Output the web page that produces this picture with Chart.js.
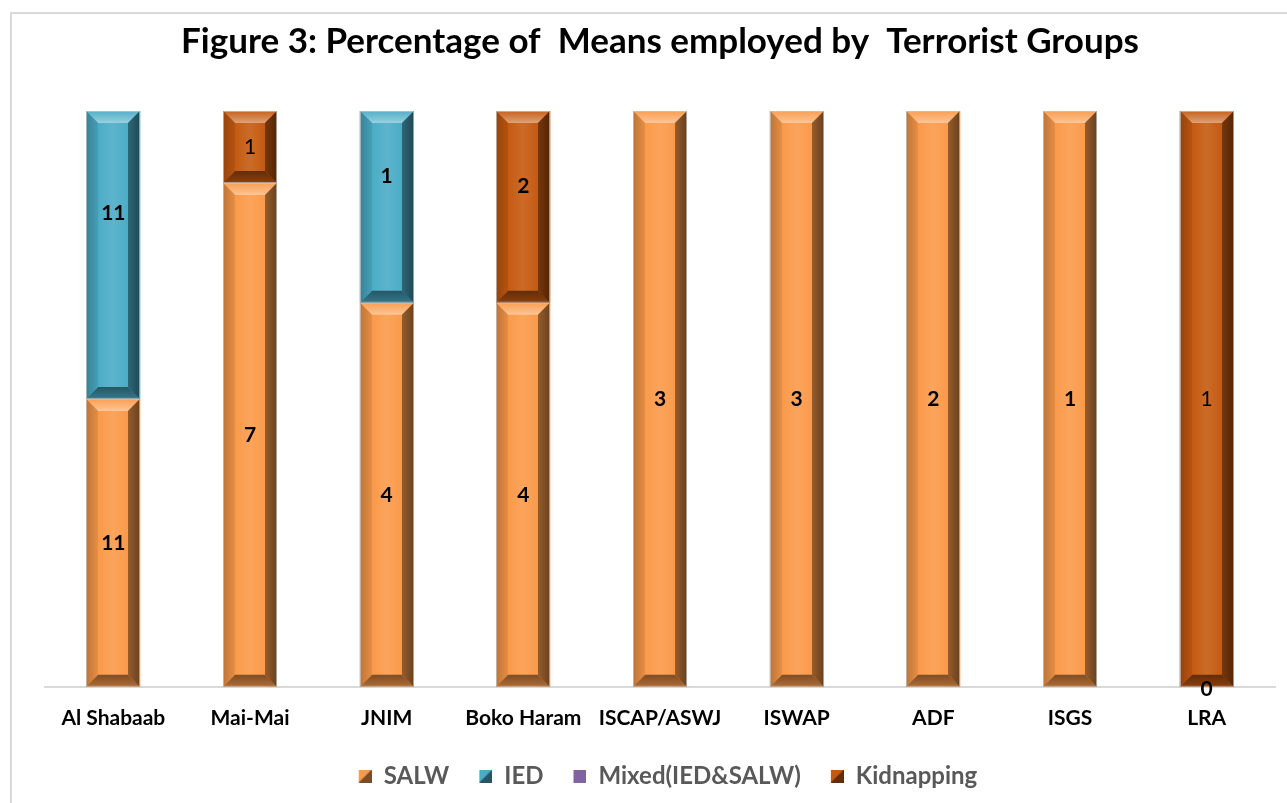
<!DOCTYPE html>
<html>
<head>
<meta charset="utf-8">
<script src="https://cdn.jsdelivr.net/npm/chart.js@4/dist/chart.umd.min.js"></script>
<style>
  html, body { margin: 0; padding: 0; background: #fff; overflow: hidden; }
  #frame { position: absolute; left: 10px; top: 12px; width: 1400px; height: 900px;
           border-left: 2px solid #d9d9d9; border-top: 2px solid #d9d9d9; }
  #wrap { position: absolute; left: 0; top: 0; width: 1287px; height: 803px; }
</style>
</head>
<body>
<div id="frame"></div>
<div id="wrap"><canvas id="chart"></canvas></div>
<script>
// Terrorist groups on the x axis
const categories = ['Al Shabaab', 'Mai-Mai', 'JNIM', 'Boko Haram', 'ISCAP/ASWJ', 'ISWAP', 'ADF', 'ISGS', 'LRA']

// share of each bar (percent)
const salwShare   = [50, 87.5, 66.7, 66.7, 100, 100, 100, 100, 0]
const iedShare    = [50, 0, 33.3, 0, 0, 0, 0, 0, 0]
const mixedShare  = [0, 0, 0, 0, 0, 0, 0, 0, 0]
const kidnapShare = [0, 12.5, 0, 33.3, 0, 0, 0, 0, 100]

// counts printed on the segments (null = no label)
const salwCounts   = [11, 7, 4, 4, 3, 3, 2, 1, 0]
const iedCounts    = [11, null, 1, null, null, null, null, null, null]
const mixedCounts  = [null, null, null, null, null, null, null, null, null]
const kidnapCounts = [null, 1, null, 2, null, null, null, null, 1]

const FONT = 'Lato, "Open Sans", sans-serif'

// label nudges (px) - a few labels sit above the segment centre in the original
const labelNudge = {
  '1-0': -42, '1-2': -31, '3-3': -21, '0-8': 2
}
const plainLabels = { '3-1': true, '3-8': true }

function rgb(hex) {
  const n = parseInt(hex.slice(1), 16)
  return [(n >> 16) & 255, (n >> 8) & 255, n & 255]
}
function shade(hex, f) {
  let [r, g, b] = rgb(hex)
  if (f <= 1) { r *= f; g *= f; b *= f }
  else { const t = f - 1; r += (255 - r) * t; g += (255 - g) * t; b += (255 - b) * t }
  return `rgb(${Math.round(r)},${Math.round(g)},${Math.round(b)})`
}

function poly(ctx, pts, fill) {
  ctx.beginPath()
  ctx.moveTo(pts[0][0], pts[0][1])
  for (let i = 1; i < pts.length; i++) ctx.lineTo(pts[i][0], pts[i][1])
  ctx.closePath()
  ctx.fillStyle = fill
  ctx.fill()
}

function drawBevel(ctx, x0, y0, x1, y1, c) {
  const w = x1 - x0, h = y1 - y0
  if (h < 1) return
  const b = Math.min(12, w / 2, h / 2)
  const g = ctx.createLinearGradient(x0, 0, x1, 0)
  g.addColorStop(0, shade(c, 0.8))
  g.addColorStop(0.22, c)
  g.addColorStop(0.5, shade(c, 1.1))
  g.addColorStop(0.78, c)
  g.addColorStop(1, shade(c, 0.62))
  ctx.fillStyle = g
  ctx.fillRect(x0, y0, w, h)

  // top bevel - bright band along inner edge
  const gt = ctx.createLinearGradient(0, y0, 0, y0 + b)
  gt.addColorStop(0, shade(c, 1.05))
  gt.addColorStop(0.7, shade(c, 1.3))
  gt.addColorStop(1, shade(c, 1.45))
  poly(ctx, [[x0, y0], [x1, y0], [x1 - b, y0 + b], [x0 + b, y0 + b]], gt)
  // bottom bevel
  const gb = ctx.createLinearGradient(0, y1 - b, 0, y1)
  gb.addColorStop(0, shade(c, 0.5))
  gb.addColorStop(1, shade(c, 0.7))
  poly(ctx, [[x0, y1], [x1, y1], [x1 - b, y1 - b], [x0 + b, y1 - b]], gb)
  // right bevel
  const gr = ctx.createLinearGradient(x1 - b, 0, x1, 0)
  gr.addColorStop(0, shade(c, 0.6))
  gr.addColorStop(1, shade(c, 0.42))
  poly(ctx, [[x1, y0], [x1, y1], [x1 - b, y1 - b], [x1 - b, y0 + b]], gr)
  // left bevel
  const gl = ctx.createLinearGradient(x0, 0, x0 + b, 0)
  gl.addColorStop(0, shade(c, 0.76))
  gl.addColorStop(1, shade(c, 0.92))
  poly(ctx, [[x0, y0], [x0, y1], [x0 + b, y1 - b], [x0 + b, y0 + b]], gl)

  ctx.strokeStyle = 'rgba(200,200,200,0.7)'
  ctx.lineWidth = 1
  ctx.strokeRect(x0 + 0.5, y0 + 0.5, w - 1, h - 1)
}

// legend marker: blank lead-in (gives the gap between items), then a 13px square
const ICON_LEAD = 16, ICON = 13
function legendIcon(c, split) {
  const cv = document.createElement('canvas')
  cv.width = ICON_LEAD + ICON; cv.height = ICON
  const x = cv.getContext('2d')
  x.fillStyle = c
  x.fillRect(ICON_LEAD, 0, ICON, ICON)
  if (split) {
    x.beginPath(); x.moveTo(ICON_LEAD + ICON, 0); x.lineTo(ICON_LEAD + ICON, ICON); x.lineTo(ICON_LEAD, ICON); x.closePath()
    x.fillStyle = shade(c, 0.5)
    x.fill()
  }
  return cv
}

const colors = ['#FA9A4A', '#4BACC6', '#8064A2', '#C55A11']
const shares = [salwShare, iedShare, mixedShare, kidnapShare]
const counts = [salwCounts, iedCounts, mixedCounts, kidnapCounts]
const names = ['SALW', 'IED', 'Mixed(IED&SALW)', 'Kidnapping']

const datasets = names.map((n, i) => ({
  label: n,
  data: shares[i],
  backgroundColor: colors[i],
  borderWidth: 0,
  pointStyle: legendIcon(colors[i], i !== 2),
  categoryPercentage: 1,
  barPercentage: 0.395
}))

const bevelPlugin = {
  id: 'bevel',
  afterDatasetsDraw(chart) {
    const ctx = chart.ctx
    ctx.save()
    chart.data.datasets.forEach((ds, i) => {
      const meta = chart.getDatasetMeta(i)
      meta.data.forEach(el => {
        const half = el.width / 2
        drawBevel(ctx, Math.round(el.x - half), Math.min(el.y, el.base), Math.round(el.x + half), Math.max(el.y, el.base), colors[i])
      })
    })
    // value labels
    ctx.fillStyle = '#000'
    ctx.textAlign = 'center'
    ctx.textBaseline = 'middle'
    chart.data.datasets.forEach((ds, i) => {
      const meta = chart.getDatasetMeta(i)
      meta.data.forEach((el, j) => {
        const v = counts[i][j]
        if (v === null) return
        const key = i + '-' + j
        ctx.font = (plainLabels[key] ? '' : 'bold ') + '21px ' + FONT
        const y = (el.y + el.base) / 2 + (labelNudge[key] || 0)
        ctx.fillText(String(v), el.x, y)
      })
    })
    ctx.restore()
  }
}

new Chart(document.getElementById('chart'), {
  type: 'bar',
  data: { labels: categories, datasets },
  options: {
    responsive: true,
    maintainAspectRatio: false,
    animation: false,
    layout: { padding: { left: 45, right: 12, top: 0, bottom: 5 } },
    plugins: {
      title: {
        display: true,
        text: 'Figure 3: Percentage of  Means employed by  Terrorist Groups',
        color: '#000',
        font: { family: FONT, size: 35, weight: 'bold' },
        padding: { top: 21, bottom: 48 }
      },
      legend: {
        position: 'bottom',
        labels: {
          usePointStyle: true,
          pointStyleWidth: ICON_LEAD + ICON,
          color: '#595959',
          font: { family: FONT, size: 24, weight: 'bold' },
          padding: 14
        }
      },
      tooltip: { enabled: false }
    },
    scales: {
      x: {
        stacked: true,
        grid: { display: false, drawTicks: false },
        border: { color: '#d9d9d9', width: 2 },
        ticks: { color: '#000', padding: 19, font: { family: FONT, size: 21, weight: 'bold' } }
      },
      y: {
        stacked: true,
        display: false,
        min: 0,
        max: 100
      }
    }
  },
  plugins: [bevelPlugin]
})
</script>
</body>
</html>
